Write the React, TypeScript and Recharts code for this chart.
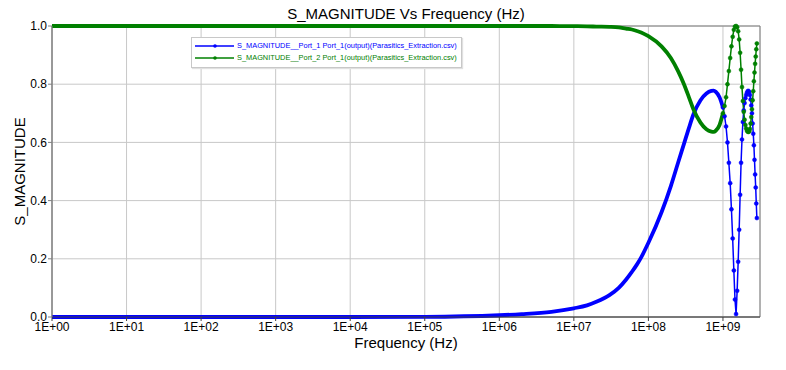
import React from 'react';
import { LineChart, Line, XAxis, YAxis, CartesianGrid, ReferenceArea, Label } from 'recharts';

// sweep points (Hz)
const freqHz = [
  1, 10, 100, 1e3, 1e4, 1e5, 1e6, 2e6, 5e6, 1e7, 1.5e7, 2e7, 3e7, 4e7, 5e7, 6e7, 7e7, 8e7,
  1e8, 1.5e8, 2e8, 2.5e8, 3e8, 3.5e8, 4e8, 5e8, 6e8, 7e8, 7.5e8, 8e8, 9e8,
  1.0e9, 1.05e9, 1.1e9, 1.15e9, 1.2e9, 1.25e9, 1.3e9, 1.35e9, 1.4e9, 1.45e9,
  1.5e9, 1.55e9, 1.6e9, 1.65e9, 1.7e9, 1.75e9, 1.8e9, 1.85e9, 1.9e9, 1.95e9,
  2.0e9, 2.05e9, 2.1e9, 2.15e9, 2.2e9, 2.25e9, 2.3e9, 2.35e9, 2.4e9, 2.45e9,
  2.5e9, 2.55e9, 2.6e9, 2.65e9, 2.7e9, 2.75e9, 2.8e9, 2.85e9,
];

const port1Mag = [
  0, 0, 0, 0, 0, 0.0005, 0.006, 0.01, 0.018, 0.03, 0.04, 0.052, 0.075, 0.1, 0.128, 0.155, 0.18, 0.205,
  0.255, 0.36, 0.45, 0.53, 0.595, 0.65, 0.695, 0.745, 0.768, 0.777, 0.778, 0.774, 0.755,
  0.72, 0.69, 0.655, 0.6, 0.53, 0.46, 0.37, 0.27, 0.16, 0.06,
  0.01, 0.09, 0.19, 0.3, 0.42, 0.53, 0.61, 0.67, 0.71, 0.735,
  0.752, 0.763, 0.771, 0.776, 0.777, 0.773, 0.763, 0.747, 0.727, 0.7,
  0.665, 0.63, 0.59, 0.54, 0.49, 0.445, 0.39, 0.34,
];

const port2Mag = [
  1, 1, 1, 1, 1, 1, 1, 1, 1, 0.9995, 0.999, 0.998, 0.997, 0.995, 0.991, 0.988, 0.983, 0.978,
  0.965, 0.93, 0.89, 0.845, 0.8, 0.755, 0.715, 0.668, 0.645, 0.637, 0.636, 0.64, 0.66,
  0.7, 0.725, 0.755, 0.8, 0.845, 0.89, 0.93, 0.963, 0.987, 0.998,
  1.0, 0.996, 0.982, 0.954, 0.908, 0.85, 0.79, 0.742, 0.705, 0.678,
  0.66, 0.648, 0.64, 0.637, 0.636, 0.638, 0.646, 0.665, 0.687, 0.714,
  0.745, 0.776, 0.81, 0.84, 0.87, 0.895, 0.92, 0.94,
];

const seriesNames = [
  'S_MAGNITUDE__Port_1 Port_1(output)(Parasitics_Extraction.csv)',
  'S_MAGNITUDE__Port_2 Port_1(output)(Parasitics_Extraction.csv)',
];
const seriesColors = ['#0000ff', '#008000'];

const xTicks = [1, 1e1, 1e2, 1e3, 1e4, 1e5, 1e6, 1e7, 1e8, 1e9];
const yTicks = [0, 0.2, 0.4, 0.6, 0.8, 1.0];

// above this the sweep points are drawn as separate markers
const markerStart = 1e9;

const rows = freqHz.map((f, i) => ({
  f,
  p1Dense: f <= markerStart ? port1Mag[i] : null,
  p2Dense: f <= markerStart ? port2Mag[i] : null,
  p1Marks: f >= markerStart ? port1Mag[i] : null,
  p2Marks: f >= markerStart ? port2Mag[i] : null,
}));

const FONT = '"Liberation Sans", Arial, sans-serif';

const fmtExp = (v: number) => {
  const e = Math.round(Math.log10(v));
  return '1E+' + String(e).padStart(2, '0');
};

const Legend = () => (
  <div
    style={{
      position: 'absolute',
      left: 191,
      top: 37,
      width: 269,
      height: 29,
      background: '#fff',
      border: '1px solid #c8c8c8',
      boxShadow: '1px 1px 1px #e0e0e0',
      fontFamily: FONT,
    }}
  >
    {seriesNames.map((name, i) => (
      <div key={name} style={{ position: 'absolute', left: 0, top: 2 + i * 12.3, height: 12, width: 269 }}>
        <svg width={44} height={12} style={{ position: 'absolute', left: 0, top: 0 }}>
          <line x1={3} y1={6} x2={42} y2={6} stroke={seriesColors[i]} strokeWidth={1.5} />
          <circle cx={23} cy={6} r={1.8} fill={seriesColors[i]} />
        </svg>
        <span
          style={{
            position: 'absolute',
            left: 45,
            top: 0,
            fontSize: 7.4,
            lineHeight: '12px',
            color: seriesColors[i],
            whiteSpace: 'nowrap',
          }}
        >
          {name}
        </span>
      </div>
    ))}
  </div>
);

export default function App() {
  return (
    <div style={{ position: 'absolute', left: 0, top: 0, width: 786, height: 370, background: '#fff', fontFamily: FONT }}>
      <div
        style={{
          position: 'absolute',
          left: 406,
          top: 6,
          transform: 'translateX(-50%)',
          fontSize: 15,
          lineHeight: '15px',
          whiteSpace: 'nowrap',
          color: '#000',
        }}
      >
        S_MAGNITUDE Vs Frequency (Hz)
      </div>
      <LineChart width={786} height={370} data={rows} margin={{ top: 26, right: 26, bottom: 23, left: 12 }}>
        <CartesianGrid stroke="#c8c8c8" />
        <ReferenceArea x1={1} x2={3.14e9} y1={0} y2={1} fill="none" stroke="#808080" ifOverflow="visible" />
        <XAxis
          dataKey="f"
          type="number"
          scale="log"
          domain={[1, 3.14e9]}
          allowDataOverflow
          ticks={xTicks}
          interval={0}
          tickFormatter={fmtExp}
          tick={{ fontSize: 12, fill: '#000', fontFamily: FONT }}
          tickSize={4}
          tickMargin={1}
          tickLine={{ stroke: '#404040' }}
          axisLine={{ stroke: '#404040' }}
          height={30}
        >
          <Label
            value="Frequency (Hz)"
            position="insideBottom"
            offset={-1}
            style={{ fontSize: 15, fill: '#000', fontFamily: FONT }}
          />
        </XAxis>
        <YAxis
          type="number"
          domain={[0, 1]}
          ticks={yTicks}
          interval={0}
          tickFormatter={(v: number) => v.toFixed(1)}
          tick={{ fontSize: 12, fill: '#000', fontFamily: FONT }}
          tickSize={4}
          tickMargin={1}
          tickLine={{ stroke: '#808080' }}
          axisLine={{ stroke: '#808080' }}
          width={40}
        >
          <Label
            value="S_MAGNITUDE"
            angle={-90}
            position="insideLeft"
            offset={8}
            style={{ fontSize: 15, fill: '#000', fontFamily: FONT, textAnchor: 'middle' }}
          />
        </YAxis>
        <Line dataKey="p1Dense" type="monotone" stroke={seriesColors[0]} strokeWidth={3.8} dot={false} isAnimationActive={false} />
        <Line
          dataKey="p1Marks"
          type="linear"
          stroke={seriesColors[0]}
          strokeWidth={1.5}
          dot={{ r: 2, fill: seriesColors[0], stroke: seriesColors[0], strokeWidth: 0.5 }}
          isAnimationActive={false}
        />
        <Line dataKey="p2Dense" type="monotone" stroke={seriesColors[1]} strokeWidth={3.8} dot={false} isAnimationActive={false} />
        <Line
          dataKey="p2Marks"
          type="linear"
          stroke={seriesColors[1]}
          strokeWidth={1.5}
          dot={{ r: 2, fill: seriesColors[1], stroke: seriesColors[1], strokeWidth: 0.5 }}
          isAnimationActive={false}
        />
      </LineChart>
      <Legend />
    </div>
  );
}
